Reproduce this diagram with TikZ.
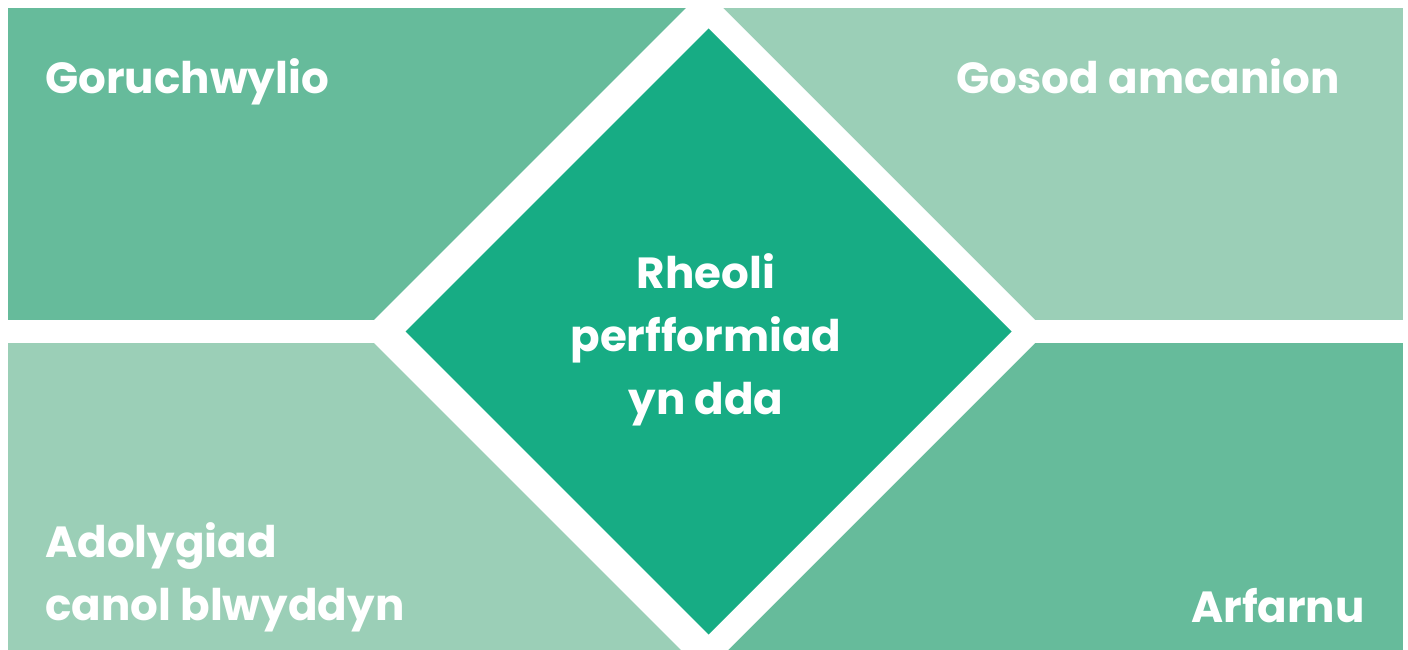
\documentclass[tikz,border=0pt]{standalone}
\usepackage{fontspec}
\setmainfont{Poppins}

\definecolor{paneldark}{RGB}{102,187,155}
\definecolor{panellight}{RGB}{155,207,183}
\definecolor{centregreen}{RGB}{23,172,132}

\tikzset{paneltext/.style={text=white, inner sep=0pt,
    font=\bfseries\fontsize{31}{44.8}\selectfont}}

\begin{document}
\begin{tikzpicture}[x=0.025cm,y=-0.025cm]
\useasboundingbox (0,0) rectangle (1408,650);
% four panels
\fill[paneldark] (8,8) rectangle (706,320);
\fill[panellight] (706,8) rectangle (1403,320);
\fill[panellight] (8,343) rectangle (706,650);
\fill[paneldark] (706,343) rectangle (1403,650);
% white gap and centre diamond
\fill[white] (704.5,-10.5) -- (1046.5,331.5) -- (704.5,673.5) -- (362.5,331.5) -- cycle;
\fill[centregreen] (708.5,28.5) -- (1011.5,331.5) -- (708.5,634.5) -- (405.5,331.5) -- cycle;
% labels (base anchor of a multi-line node sits on its last line)
\node[paneltext, anchor=base west] (goruchwylio) at (45,94) {Goruchwylio};
\node[paneltext, anchor=base east] (gosod) at (1340,94) {Gosod amcanion};
\node[paneltext, anchor=base west, align=left] (adolygiad) at (45,620) {Adolygiad\\canol blwyddyn};
\node[paneltext, anchor=base east] (arfarnu) at (1365,622) {Arfarnu};
\node[paneltext, anchor=base, align=center] (rheoli) at (706,414) {Rheoli\\perfformiad\\yn dda};
\end{tikzpicture}
\end{document}
